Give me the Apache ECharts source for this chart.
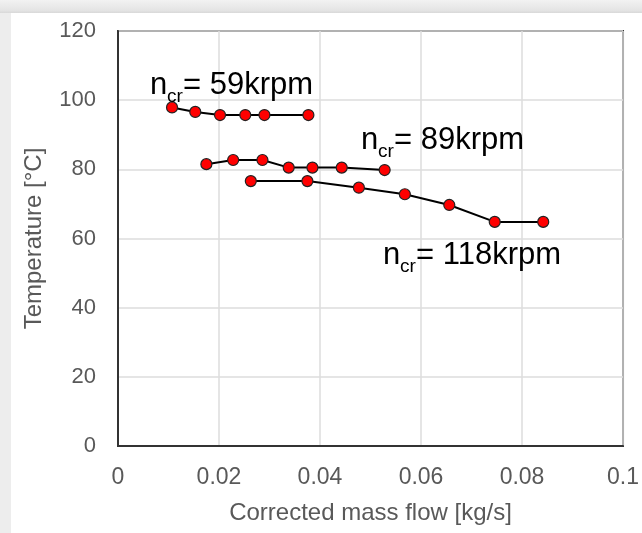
<!DOCTYPE html>
<html><head><meta charset="utf-8">
<script src="https://cdn.jsdelivr.net/npm/echarts@6/dist/echarts.min.js"></script>
<style>html,body{margin:0;padding:0;background:#fff}#c{width:642px;height:533px}</style>
</head><body><div id="c"></div>
<script>
const xTicks = [0, 0.02, 0.04, 0.06, 0.08, 0.1];
const yTicks = [0, 20, 40, 60, 80, 100, 120];

const flow59 = [0.0107, 0.0153, 0.0202, 0.0252, 0.0290, 0.0377];
const temp59 = [97.9, 96.6, 95.7, 95.7, 95.7, 95.7];

const flow89 = [0.0175, 0.0228, 0.0286, 0.0338, 0.0385, 0.0443, 0.0528];
const temp89 = [81.5, 82.7, 82.7, 80.5, 80.5, 80.5, 79.8];

const flow118 = [0.0263, 0.0375, 0.0477, 0.0568, 0.0656, 0.0746, 0.0842];
const temp118 = [76.6, 76.6, 74.7, 72.8, 69.7, 64.8, 64.8];

const labels = ['59krpm', '89krpm', '118krpm'];

function pts(xs, ys){ return xs.map((x,i)=>[x, ys[i]]); }

const chart = echarts.init(document.getElementById('c'), null, {renderer:'canvas'});
const FONT = 'Liberation Sans, Arial, sans-serif';
const mk = (name, xs, ys) => ({
  type:'line', name, data: pts(xs, ys),
  symbol:'circle', symbolSize: 11,
  lineStyle:{color:'#000', width:2},
  itemStyle:{color:'#f00', borderColor:'#222', borderWidth:1.2},
  z: 5
});
const MAIN = 31, SUB = 19;
const ann = (x, base, lab) => ([
  {type:'text', x:x, y:base - 28, z:10, style:{text:'n', font:MAIN+'px '+FONT, fill:'#000', verticalAlign:'top'}},
  {type:'text', x:x + 17, y:base - 11, z:10, style:{text:'cr', font:SUB+'px '+FONT, fill:'#000', verticalAlign:'top'}},
  {type:'text', x:x + 33, y:base - 28, z:10, style:{text:'= ' + lab, font:MAIN+'px '+FONT, fill:'#000', verticalAlign:'top'}}
]);
chart.setOption({
  animation:false,
  backgroundColor:'#fff',
  grid:{left:118, right:18, top:31, bottom:87, show:true, borderColor:'#333', borderWidth:2, containLabel:false},
  xAxis:{
    type:'value', min:xTicks[0], max:xTicks[xTicks.length-1], interval:0.02,
    name:'Corrected mass flow [kg/s]', nameLocation:'middle', nameGap:55,
    nameTextStyle:{fontSize:24, fontFamily:FONT, color:'#595959'},
    axisLine:{show:true, lineStyle:{color:'#333', width:2}},
    axisTick:{show:false},
    axisLabel:{fontSize:23, fontFamily:FONT, color:'#595959', margin:20,
      formatter:v=>String(+v.toFixed(2))},
    splitLine:{show:true, lineStyle:{color:'#dcdcdc', width:1.5}}
  },
  yAxis:{
    type:'value', min:yTicks[0], max:yTicks[yTicks.length-1], interval:20,
    name:'Temperature [\u00B0C]', nameLocation:'middle', nameGap:72, nameRotate:90,
    nameTextStyle:{fontSize:24, fontFamily:FONT, color:'#595959'},
    axisLine:{show:true, lineStyle:{color:'#333', width:2}},
    axisTick:{show:false},
    axisLabel:{fontSize:22, fontFamily:FONT, color:'#595959', margin:22},
    splitLine:{show:true, lineStyle:{color:'#dcdcdc', width:1.5}}
  },
  series:[
    mk(labels[0], flow59, temp59),
    mk(labels[1], flow89, temp89),
    mk(labels[2], flow118, temp118)
  ],
  graphic:[
    {type:'rect', left:0, top:0, z:-1, shape:{width:642, height:13},
      style:{fill:new echarts.graphic.LinearGradient(0,0,0,1,[{offset:0,color:'#f2f2f2'},{offset:0.8,color:'#e4e4e4'},{offset:1,color:'#d8d8d8'}])}},
    {type:'rect', left:0, top:13, z:-1, shape:{width:11, height:520},
      style:{fill:'#ededed'}}
  ].concat(ann(150, 98, labels[0]), ann(361, 153, labels[1]), ann(383, 268, labels[2]))
});
</script></body></html>
